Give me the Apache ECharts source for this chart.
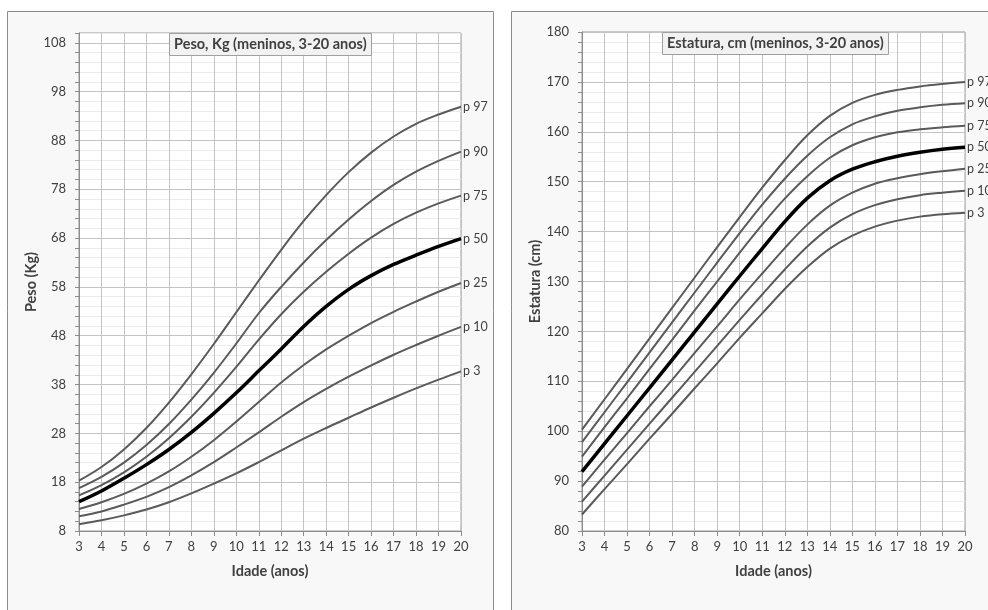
<!DOCTYPE html>
<html>
<head>
<meta charset="utf-8">
<script src="https://cdn.jsdelivr.net/npm/echarts@6/dist/echarts.min.js"></script>
<style>
  html, body { margin: 0; padding: 0; background: #fff; }
  #main { width: 988px; height: 610px; }
</style>
</head>
<body>
<div id="main"></div>
<script>
// idade (anos)
var idades = [3, 4, 5, 6, 7, 8, 9, 10, 11, 12, 13, 14, 15, 16, 17, 18, 19, 20];
var percentis = ['p 3', 'p 10', 'p 25', 'p 50', 'p 75', 'p 90', 'p 97'];

// Peso, Kg
var peso_p3  = [9.4, 10.2, 11.2, 12.4, 13.9, 15.7, 17.7, 19.8, 22.1, 24.5, 26.9, 29.1, 31.2, 33.3, 35.3, 37.2, 39.0, 40.7];
var peso_p10 = [11.0, 12.0, 13.4, 15.0, 17.0, 19.4, 22.1, 25.1, 28.2, 31.4, 34.4, 37.1, 39.6, 41.9, 44.1, 46.1, 48.0, 49.8];
var peso_p25 = [12.5, 13.9, 15.6, 17.7, 20.2, 23.2, 26.6, 30.4, 34.4, 38.4, 42.0, 45.2, 48.0, 50.6, 52.9, 55.0, 57.0, 58.8];
var peso_p50 = [14.0, 16.2, 18.8, 21.6, 24.7, 28.2, 32.1, 36.3, 40.8, 45.3, 49.9, 54.0, 57.5, 60.3, 62.6, 64.5, 66.3, 67.9];
var peso_p75 = [15.3, 17.4, 20.0, 23.2, 27.0, 31.4, 36.3, 41.6, 47.2, 52.4, 57.0, 61.1, 64.8, 68.1, 70.9, 73.2, 75.1, 76.7];
var peso_p90 = [16.8, 19.1, 22.0, 25.6, 29.9, 34.9, 40.4, 46.4, 52.6, 58.0, 63.0, 67.6, 71.8, 75.6, 78.9, 81.6, 83.8, 85.7];
var peso_p97 = [18.3, 21.1, 24.7, 29.1, 34.3, 40.1, 46.3, 52.8, 59.3, 65.6, 71.5, 76.8, 81.5, 85.5, 88.8, 91.4, 93.3, 94.9];

// Estatura, cm
var est_p3  = [83.3, 88.4, 93.4, 98.5, 103.5, 108.6, 113.6, 118.7, 123.6, 128.5, 132.9, 136.6, 139.2, 141.0, 142.2, 143.0, 143.5, 143.8];
var est_p10 = [85.9, 91.1, 96.3, 101.5, 106.7, 111.9, 117.1, 122.3, 127.4, 132.4, 137.0, 140.8, 143.5, 145.3, 146.5, 147.3, 147.8, 148.2];
var est_p25 = [88.9, 94.3, 99.6, 105.0, 110.3, 115.7, 121.0, 126.4, 131.6, 136.7, 141.4, 145.2, 147.8, 149.6, 150.7, 151.5, 152.1, 152.6];
var est_p50 = [91.9, 97.5, 103.1, 108.7, 114.3, 119.9, 125.5, 131.1, 136.6, 142.0, 146.7, 150.2, 152.5, 154.0, 155.1, 155.9, 156.5, 156.9];
var est_p75 = [94.9, 100.8, 106.6, 112.5, 118.3, 124.2, 130.0, 135.8, 141.4, 146.6, 151.1, 154.8, 157.3, 158.9, 159.9, 160.5, 160.9, 161.2];
var est_p90 = [97.8, 103.8, 109.8, 115.8, 121.8, 127.8, 133.8, 139.7, 145.4, 150.6, 155.2, 158.9, 161.5, 163.1, 164.2, 164.9, 165.4, 165.7];
var est_p97 = [100.3, 106.4, 112.5, 118.6, 124.7, 130.8, 136.9, 142.9, 148.8, 154.3, 159.3, 163.2, 165.8, 167.4, 168.4, 169.1, 169.6, 170.0];

var pesoDados = [peso_p3, peso_p10, peso_p25, peso_p50, peso_p75, peso_p90, peso_p97];
var estDados = [est_p3, est_p10, est_p25, est_p50, est_p75, est_p90, est_p97];

var fonte = 'Lato, "Open Sans", sans-serif';
var corTexto = '#404040';

function pares(valores) {
    return idades.map(function (a, i) { return [a, valores[i]]; });
}

function montaSeries(dados, idx) {
    return dados.map(function (valores, i) {
        var mediana = percentis[i] === 'p 50';
        return {
            name: percentis[i],
            type: 'line',
            xAxisIndex: idx,
            yAxisIndex: idx,
            data: pares(valores),
            smooth: 0.35,
            symbol: 'none',
            z: mediana ? 4 : 3,
            lineStyle: {
                color: mediana ? '#000' : '#5a5a5a',
                width: mediana ? 3.5 : 2
            },
            endLabel: {
                show: true,
                formatter: percentis[i],
                distance: 2,
                fontSize: 12.5,
                fontFamily: fonte,
                color: corTexto
            }
        };
    });
}

function eixoX(idx) {
    return {
        type: 'value',
        gridIndex: idx,
        min: 3,
        max: 20,
        interval: 1,
        name: 'Idade (anos)',
        nameLocation: 'middle',
        nameGap: 33,
        nameTextStyle: { fontSize: 14.5, fontWeight: 'bold', color: corTexto, fontFamily: fonte },
        axisLine: { lineStyle: { color: '#8c8c8c' } },
        axisTick: { length: 5, lineStyle: { color: '#8c8c8c' } },
        axisLabel: { fontSize: 13, color: corTexto, fontFamily: fonte, margin: 9 },
        splitLine: { lineStyle: { color: '#c4c4c4', width: 1 } }
    };
}

function eixoY(idx, nome, min, max, gap) {
    return {
        type: 'value',
        gridIndex: idx,
        min: min,
        max: max,
        interval: 2,
        name: nome,
        nameLocation: 'middle',
        nameGap: gap,
        nameTextStyle: { fontSize: 14.5, fontWeight: 'bold', color: corTexto, fontFamily: fonte },
        axisLine: { show: true, lineStyle: { color: '#8c8c8c' } },
        axisTick: { show: true, length: 4, lineStyle: { color: '#8c8c8c' } },
        axisLabel: {
            fontSize: 13,
            color: corTexto,
            fontFamily: fonte,
            margin: 13,
            formatter: function (v) {
                return Math.round(v - min) % 10 === 0 ? String(Math.round(v)) : '';
            }
        },
        splitLine: {
            lineStyle: { color: ['#c4c4c4', '#ebebeb', '#ebebeb', '#ebebeb', '#ebebeb'], width: 1 }
        }
    };
}

var myChart = echarts.init(document.getElementById('main'), null, { renderer: 'canvas' });

var option = {
    animation: false,
    backgroundColor: '#fff',
    graphic: [
        {
            type: 'rect', z: -10, silent: true,
            shape: { x: 7.5, y: 11.5, width: 486, height: 640 },
            style: { fill: '#f8f8f8', stroke: '#8c8c8c', lineWidth: 1 }
        },
        {
            type: 'rect', z: -10, silent: true,
            shape: { x: 511.5, y: 11.5, width: 500, height: 640 },
            style: { fill: '#f8f8f8', stroke: '#8c8c8c', lineWidth: 1 }
        }
    ],
    title: [
        {
            text: 'Peso, Kg (meninos, 3-20 anos)',
            left: 169, top: 33,
            padding: [4, 5, 4, 5],
            backgroundColor: '#f2f2f2',
            borderColor: '#a0a0a0',
            borderWidth: 1,
            textStyle: { fontSize: 14.5, fontWeight: 'bold', color: corTexto, fontFamily: fonte }
        },
        {
            text: 'Estatura, cm (meninos, 3-20 anos)',
            left: 662, top: 32,
            padding: [4, 5, 4, 5],
            backgroundColor: '#f2f2f2',
            borderColor: '#a0a0a0',
            borderWidth: 1,
            textStyle: { fontSize: 14.5, fontWeight: 'bold', color: corTexto, fontFamily: fonte }
        }
    ],
    grid: [
        { left: 79, right: 527, top: 33, bottom: 79, show: true, backgroundColor: '#fff', borderColor: '#9a9a9a', borderWidth: 1 },
        { left: 582, right: 23, top: 32, bottom: 79, show: true, backgroundColor: '#fff', borderColor: '#9a9a9a', borderWidth: 1 }
    ],
    xAxis: [eixoX(0), eixoX(1)],
    yAxis: [
        eixoY(0, 'Peso (Kg)', 8, 110, 40),
        eixoY(1, 'Estatura (cm)', 80, 180, 37)
    ],
    series: montaSeries(pesoDados, 0).concat(montaSeries(estDados, 1))
};

myChart.setOption(option);
</script>
</body>
</html>
